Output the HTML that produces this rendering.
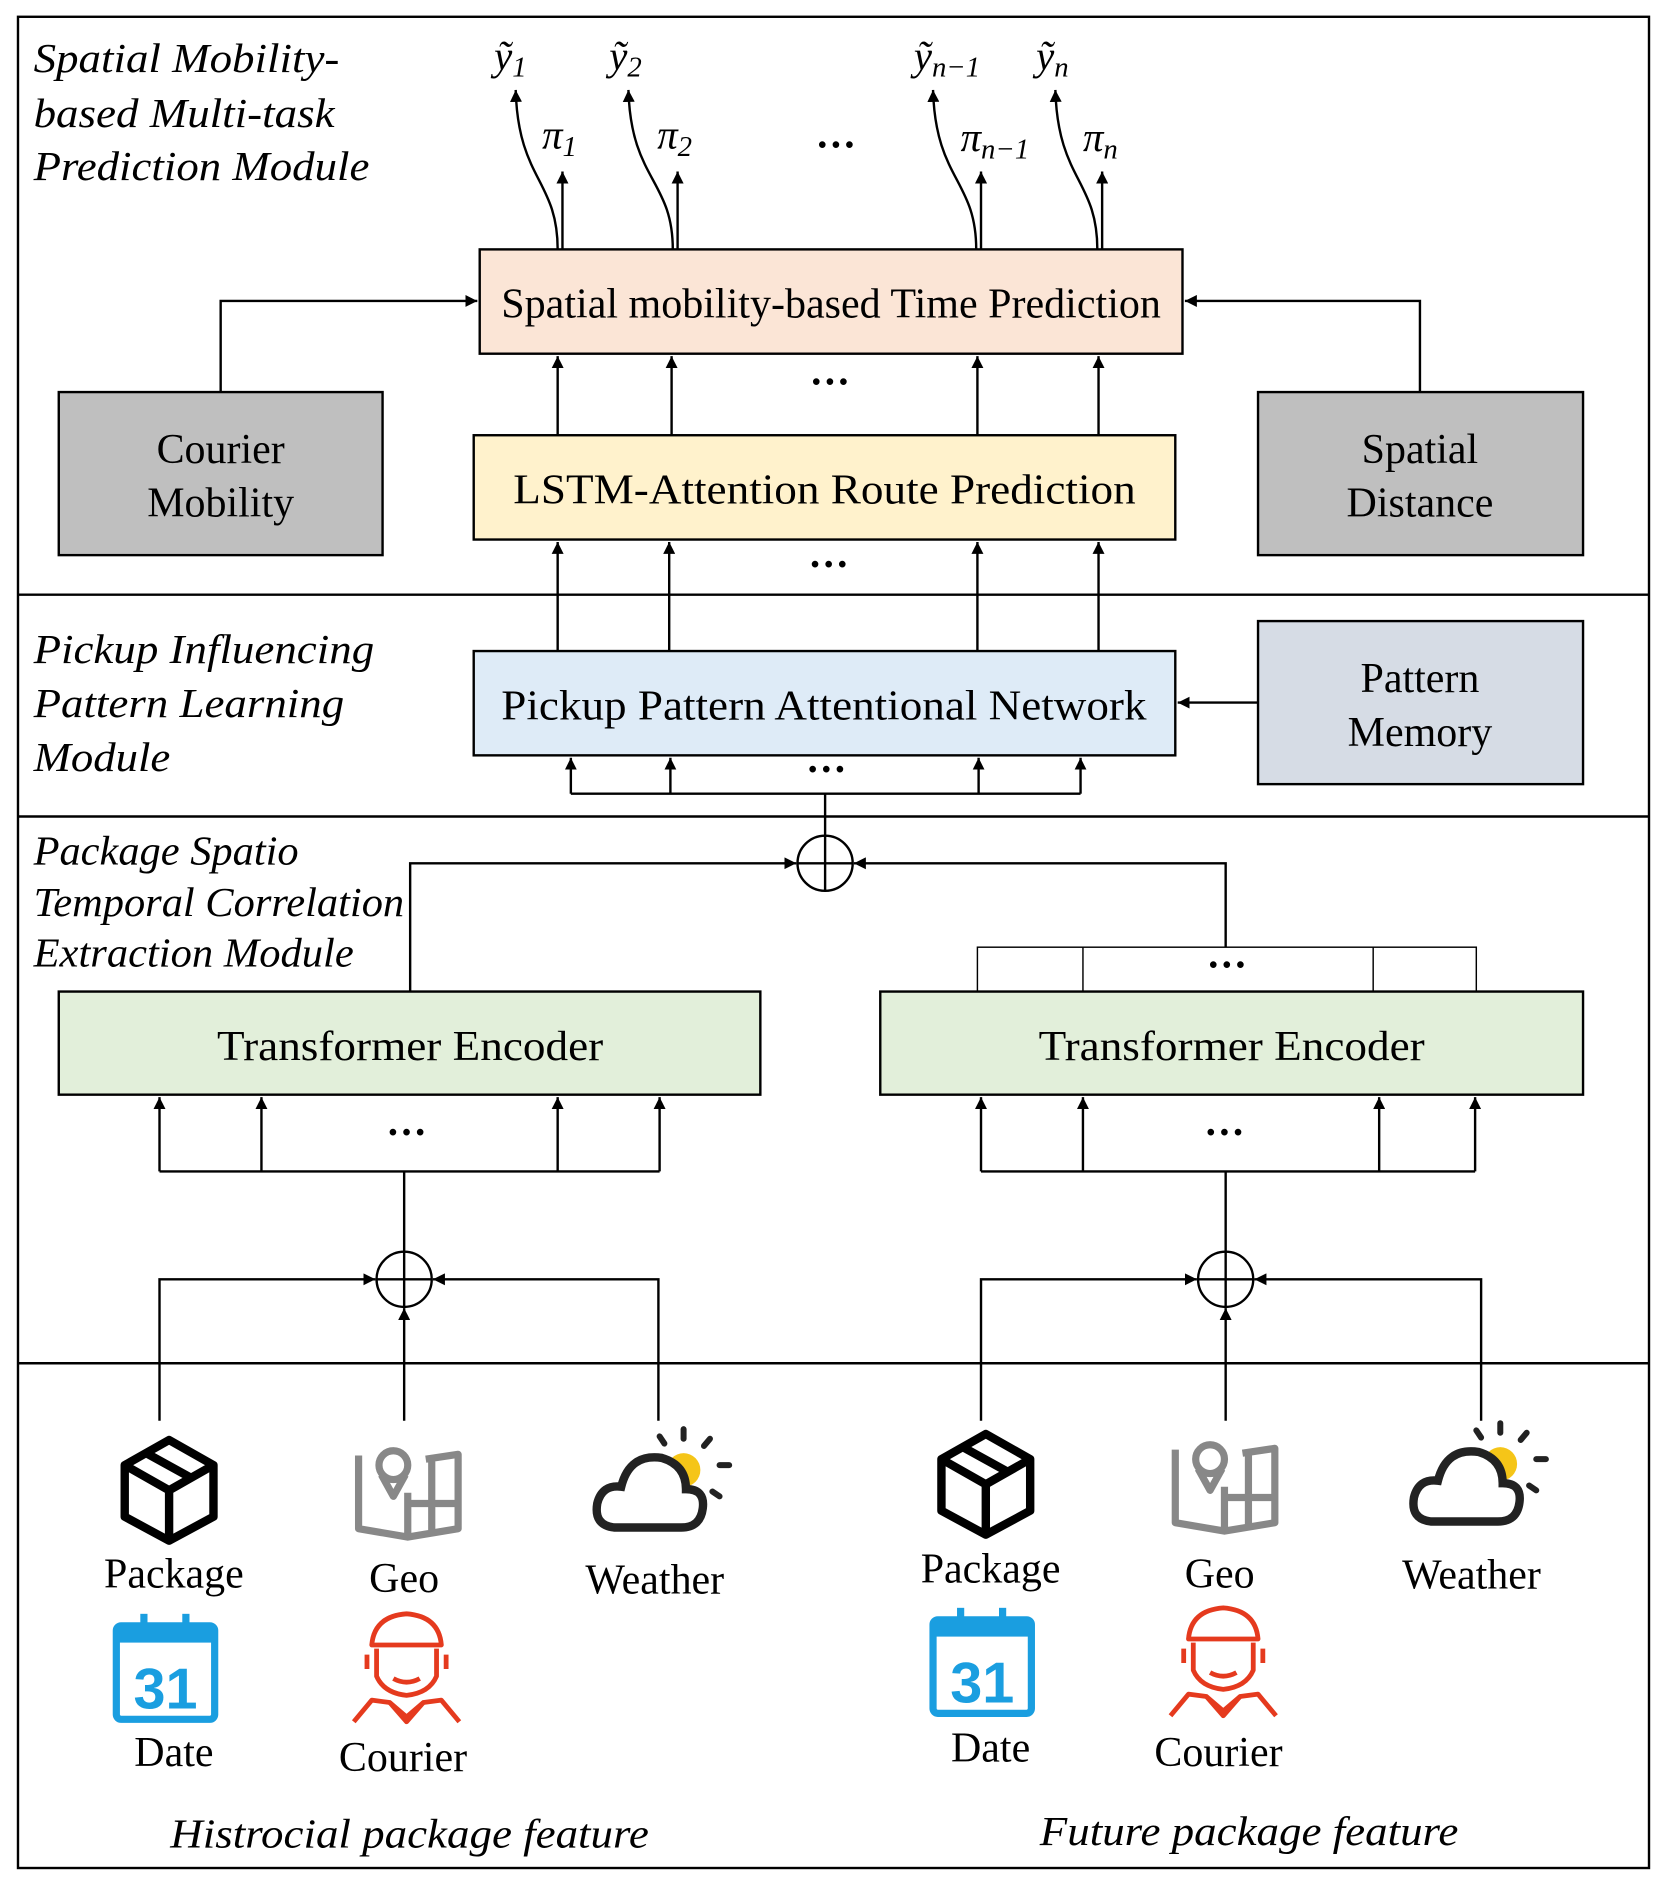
<!DOCTYPE html>
<html><head><meta charset="utf-8"><style>
html,body{margin:0;padding:0;background:#fff}
svg{display:block}
text{font-family:"Liberation Serif",serif;fill:#000}
.it{font-style:italic}
</style></head><body>
<svg width="1661" height="1880" viewBox="0 0 1385 1568" preserveAspectRatio="none" xmlns="http://www.w3.org/2000/svg">
<defs>
<marker id="a" viewBox="0 0 10 10" refX="10" refY="5" markerWidth="5" markerHeight="5" orient="auto-start-reverse"><path d="M0,0L10,5L0,10z" fill="#000"/></marker>
</defs>
<g fill="none" stroke="#000" stroke-width="2">
<rect x="15" y="14" width="1360" height="1544"/>
<line x1="15" y1="496" x2="1375" y2="496"/>
<line x1="15" y1="681" x2="1375" y2="681"/>
<line x1="15" y1="1137" x2="1375" y2="1137"/>
</g>
<g stroke="#000" stroke-width="2">
<rect x="400" y="208" width="586" height="87" fill="#fbe5d6"/>
<rect x="395" y="363" width="585" height="87" fill="#fff2cc"/>
<rect x="49" y="327" width="270" height="136" fill="#bfbfbf"/>
<rect x="1049" y="327" width="271" height="136" fill="#bfbfbf"/>
<rect x="395" y="543" width="585" height="87" fill="#deebf7"/>
<rect x="1049" y="518" width="271" height="136" fill="#d6dce5"/>
<rect x="49" y="827" width="585" height="86" fill="#e2efda"/>
<rect x="734" y="827" width="586" height="86" fill="#e2efda"/>
</g>
<g fill="none" stroke="#000" stroke-width="1.2">
<rect x="815" y="790" width="416" height="37"/>
<line x1="903" y1="790" x2="903" y2="827"/><line x1="1145" y1="790" x2="1145" y2="827"/>
</g>
<g fill="none" stroke="#000" stroke-width="2" marker-end="url(#a)">
<line x1="465" y1="363" x2="465" y2="297"/><line x1="560" y1="363" x2="560" y2="297"/>
<line x1="815" y1="363" x2="815" y2="297"/><line x1="916" y1="363" x2="916" y2="297"/>
<line x1="465" y1="543" x2="465" y2="452"/><line x1="558" y1="543" x2="558" y2="452"/>
<line x1="815" y1="543" x2="815" y2="452"/><line x1="916" y1="543" x2="916" y2="452"/>
<line x1="476" y1="662" x2="476" y2="632"/><line x1="559" y1="662" x2="559" y2="632"/>
<line x1="816" y1="662" x2="816" y2="632"/><line x1="901" y1="662" x2="901" y2="632"/>
<polyline points="184,327 184,251 398,251"/>
<polyline points="1184,327 1184,251 988,251"/>
<line x1="1049" y1="586" x2="982" y2="586"/>
<polyline points="342,827 342,720 664,720"/>
<polyline points="1022,790 1022,720 712,720"/>
<line x1="133" y1="977" x2="133" y2="915"/><line x1="218" y1="977" x2="218" y2="915"/>
<line x1="465" y1="977" x2="465" y2="915"/><line x1="550" y1="977" x2="550" y2="915"/>
<line x1="818" y1="977" x2="818" y2="915"/><line x1="903" y1="977" x2="903" y2="915"/>
<line x1="1150" y1="977" x2="1150" y2="915"/><line x1="1230" y1="977" x2="1230" y2="915"/>
<polyline points="133,1185 133,1067 313,1067"/>
<polyline points="549,1185 549,1067 361,1067"/>
<line x1="337" y1="1185" x2="337" y2="1091"/>
<polyline points="818,1185 818,1067 998,1067"/>
<polyline points="1235,1185 1235,1067 1046,1067"/>
<line x1="1022" y1="1185" x2="1022" y2="1091"/>
<line x1="469" y1="208" x2="469" y2="143"/><line x1="565" y1="208" x2="565" y2="143"/>
<line x1="818" y1="208" x2="818" y2="143"/><line x1="919" y1="208" x2="919" y2="143"/>
<path d="M465,208 C465,150 432,150 430,75"/>
<path d="M561,208 C561,150 526,150 524,75"/>
<path d="M814,208 C814,150 780,150 778,75"/>
<path d="M915,208 C915,150 882,150 880,75"/>
</g>
<g fill="none" stroke="#000" stroke-width="2">
<line x1="476" y1="662" x2="901" y2="662"/><line x1="688" y1="662" x2="688" y2="697"/>
<line x1="133" y1="977" x2="550" y2="977"/><line x1="337" y1="977" x2="337" y2="1044"/>
<line x1="818" y1="977" x2="1230" y2="977"/><line x1="1022" y1="977" x2="1022" y2="1044"/>
<circle cx="688" cy="720" r="23"/><line x1="665" y1="720" x2="711" y2="720"/><line x1="688" y1="697" x2="688" y2="743"/>
<circle cx="337" cy="1067" r="23"/><line x1="314" y1="1067" x2="360" y2="1067"/><line x1="337" y1="1044" x2="337" y2="1090"/>
<circle cx="1022" cy="1067" r="23"/><line x1="999" y1="1067" x2="1045" y2="1067"/><line x1="1022" y1="1044" x2="1022" y2="1090"/>
</g>
<g font-size="34" font-weight="bold" text-anchor="middle">
<text x="697" y="132">···</text><text x="692" y="330">···</text><text x="691" y="482">···</text>
<text x="689" y="653">···</text><text x="1023" y="816">···</text><text x="339" y="956">···</text><text x="1021" y="956">···</text>
</g>
<g font-size="35">
<text x="418" y="265" textLength="550" lengthAdjust="spacingAndGlyphs">Spatial mobility-based Time Prediction</text>
<text x="428" y="420" textLength="519" lengthAdjust="spacingAndGlyphs">LSTM-Attention Route Prediction</text>
<text x="418" y="600" textLength="538" lengthAdjust="spacingAndGlyphs">Pickup Pattern Attentional Network</text>
<text x="181" y="884" textLength="322" lengthAdjust="spacingAndGlyphs">Transformer Encoder</text>
<text x="866" y="884" textLength="322" lengthAdjust="spacingAndGlyphs">Transformer Encoder</text>
</g>
<g font-size="35" text-anchor="middle">
<text x="184" y="386">Courier</text><text x="184" y="431">Mobility</text>
<text x="1184" y="386">Spatial</text><text x="1184" y="431">Distance</text>
<text x="1184" y="577">Pattern</text><text x="1184" y="622">Memory</text>
</g>
<g font-size="34">
<text x="28" y="60" class="it" textLength="255" lengthAdjust="spacingAndGlyphs">Spatial Mobility-</text>
<text x="28" y="106" class="it" textLength="251" lengthAdjust="spacingAndGlyphs">based Multi-task</text>
<text x="28" y="150" class="it" textLength="280" lengthAdjust="spacingAndGlyphs">Prediction Module</text>
<text x="28" y="553" class="it" textLength="284" lengthAdjust="spacingAndGlyphs">Pickup Influencing</text>
<text x="28" y="598" class="it" textLength="259" lengthAdjust="spacingAndGlyphs">Pattern Learning</text>
<text x="28" y="643" class="it" textLength="114" lengthAdjust="spacingAndGlyphs">Module</text>
<text x="28" y="721" class="it" textLength="221" lengthAdjust="spacingAndGlyphs">Package Spatio</text>
<text x="28" y="764" class="it" textLength="309" lengthAdjust="spacingAndGlyphs">Temporal Correlation</text>
<text x="28" y="806" class="it" textLength="267" lengthAdjust="spacingAndGlyphs">Extraction Module</text>
<text x="142" y="1541" class="it" textLength="399" lengthAdjust="spacingAndGlyphs">Histrocial package feature</text>
<text x="867" y="1539" class="it" textLength="349" lengthAdjust="spacingAndGlyphs">Future package feature</text>
</g>
<g font-size="34" class="it">
<text x="412" y="58" class="it">ỹ<tspan font-size="24" dy="6">1</tspan></text>
<text x="508" y="58" class="it">ỹ<tspan font-size="24" dy="6">2</tspan></text>
<text x="762" y="58" class="it">ỹ<tspan font-size="24" dy="6">n−1</tspan></text>
<text x="864" y="58" class="it">ỹ<tspan font-size="24" dy="6">n</tspan></text>
<text x="452" y="124" class="it">π<tspan font-size="24" dy="6">1</tspan></text>
<text x="548" y="124" class="it">π<tspan font-size="24" dy="6">2</tspan></text>
<text x="801" y="126" class="it">π<tspan font-size="24" dy="6">n−1</tspan></text>
<text x="903" y="126" class="it">π<tspan font-size="24" dy="6">n</tspan></text>
</g>
<g id="icons">
<g font-size="35" text-anchor="middle">
<text x="145" y="1324">Package</text><text x="337" y="1328">Geo</text><text x="546" y="1329">Weather</text>
<text x="145" y="1473">Date</text><text x="336" y="1477">Courier</text>
<text x="826" y="1320">Package</text><text x="1017" y="1324">Geo</text><text x="1227" y="1325">Weather</text>
<text x="826" y="1469">Date</text><text x="1016" y="1473">Courier</text>
</g>
<g id="L">
<g fill="none" stroke="#000" stroke-width="7" stroke-linejoin="round">
<path d="M141,1201 L178,1222 L178,1265 L141,1285 L104,1265 L104,1222 Z M104,1222 L141,1243 L178,1222 M141,1243 L141,1285 M122,1212 L160,1233"/>
</g>
<g fill="none" stroke="#888" stroke-width="6" stroke-linejoin="round">
<path d="M299,1214 L299,1275 L340,1282 L382,1275 L382,1213 L355,1217 M340,1245 L340,1282 M360,1217 L360,1278 M340,1254 L382,1254"/>
<circle cx="328" cy="1222" r="12"/><path d="M318,1230 L328,1248 L338,1230"/>
</g>
<g>
<circle cx="570" cy="1226" r="14" fill="#f5c518"/>
<g stroke="#222" stroke-width="5" stroke-linecap="round"><line x1="570" y1="1192" x2="570" y2="1200"/><line x1="592" y1="1200" x2="587" y2="1206"/><line x1="600" y1="1222" x2="608" y2="1222"/><line x1="594" y1="1244" x2="600" y2="1248"/><line x1="550" y1="1198" x2="554" y2="1204"/></g>
<path d="M512,1274 Q495,1272 498,1254 Q502,1238 518,1240 Q525,1212 552,1216 Q572,1222 572,1242 Q588,1242 586,1258 Q584,1274 568,1274 Z" fill="#fff" stroke="#222" stroke-width="7"/>
</g>
<g>
<rect x="97" y="1356" width="82" height="78" rx="4" fill="none" stroke="#1a9ee0" stroke-width="6"/>
<rect x="97" y="1356" width="82" height="14" fill="#1a9ee0"/>
<line x1="120" y1="1346" x2="120" y2="1362" stroke="#1a9ee0" stroke-width="6"/><line x1="155" y1="1346" x2="155" y2="1362" stroke="#1a9ee0" stroke-width="6"/>
<text x="138" y="1425" font-family="Liberation Sans,sans-serif" font-weight="bold" font-size="48" text-anchor="middle" style="fill:#1a9ee0;font-family:'Liberation Sans',sans-serif">31</text>
</g>
<g fill="none" stroke="#e53a1e" stroke-width="4" stroke-linejoin="round">
<path d="M310,1372 Q312,1348 339,1346 Q366,1348 368,1372 Z"/>
<path d="M314,1375 L314,1398 Q320,1412 339,1414 Q358,1412 364,1398 L364,1375"/>
<path d="M306,1380 L306,1392 M372,1380 L372,1392"/>
<path d="M328,1400 Q339,1406 350,1400"/>
<path d="M295,1436 L310,1418 L325,1420 L339,1432 L353,1420 L368,1418 L383,1436"/>
<path d="M325,1420 L339,1436 L353,1420"/>
</g>
</g>
<use href="#L" x="681" y="-5"/>
</g>
</svg>
</body></html>
